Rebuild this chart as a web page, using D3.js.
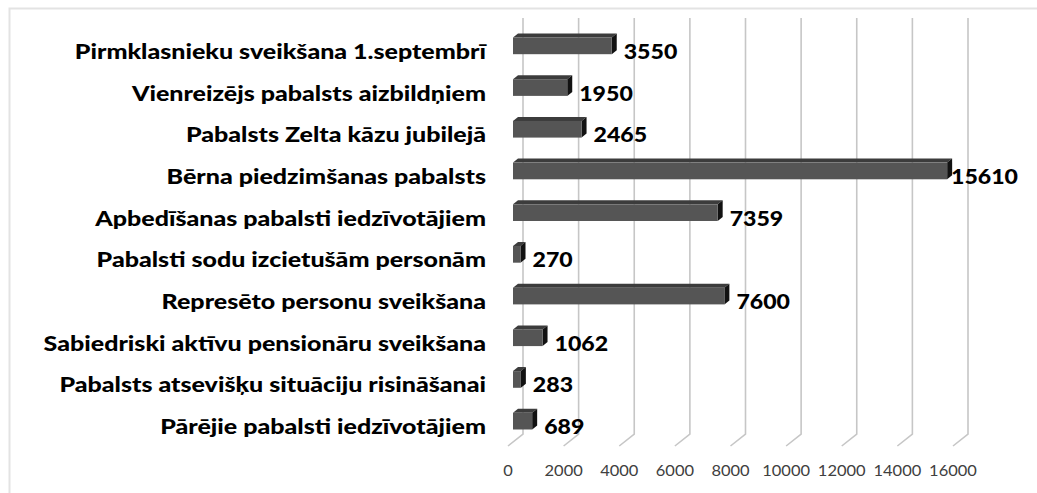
<!DOCTYPE html>
<html>
<head>
<meta charset="utf-8">
<script src="https://cdn.jsdelivr.net/npm/d3@7"></script>
<style>
  body { margin: 0; background: #fff; }
  text { font-family: Lato, "Open Sans", sans-serif; }
</style>
</head>
<body>
<div id="chart"></div>
<script>
// data, top to bottom as in the picture
var categories = [
  "Pirmklasnieku sveikšana 1.septembrī",
  "Vienreizējs pabalsts aizbildņiem",
  "Pabalsts Zelta kāzu jubilejā",
  "Bērna piedzimšanas pabalsts",
  "Apbedīšanas pabalsti iedzīvotājiem",
  "Pabalsti sodu izcietušām personām",
  "Represēto personu sveikšana",
  "Sabiedriski aktīvu pensionāru sveikšana",
  "Pabalsts atsevišķu situāciju risināšanai",
  "Pārējie pabalsti iedzīvotājiem"
];
var values = [3550, 1950, 2465, 15610, 7359, 270, 7600, 1062, 283, 689];
var ticks = [0, 2000, 4000, 6000, 8000, 10000, 12000, 14000, 16000];

var width = 1037, height = 493;

// 3d offsets
var depth = {dx: 15, dy: -12};
var barOff = {dx: 5, dy: -4};
var barDepth = {dx: 5, dy: -4};
var floorY = 446, gridTop = 18;

var svg = d3.select("#chart")
    .append("svg")
    .attr("width", width)
    .attr("height", height);

// chart border
svg.append("rect")
    .attr("x", 9.5).attr("y", 8.5)
    .attr("width", width).attr("height", height)
    .attr("fill", "none")
    .attr("stroke", "#e3e3e3")
    .attr("stroke-width", 2);

var xScale = d3.scaleLinear()
    .domain([0, 16000])
    .range([508, 953]);

var yScale = d3.scaleBand()
    .domain(categories)
    .range([25, 442])
    .paddingInner(0.6)
    .paddingOuter(0.3);

// gridlines (floor diagonal + back wall vertical)
svg.selectAll(".grid")
    .data(ticks)
    .enter().append("path")
    .attr("class", "grid")
    .attr("fill", "none")
    .attr("stroke", "#c6c6c6")
    .attr("stroke-width", 1.6)
    .attr("d", function(d) {
      var x = xScale(d);
      return "M" + x + "," + floorY + "L" + (x + depth.dx) + "," + (floorY + depth.dy) +
             "L" + (x + depth.dx) + "," + gridTop;
    });

// tick labels
svg.selectAll(".tick")
    .data(ticks)
    .enter().append("text")
    .attr("class", "tick")
    .attr("transform", function(d) { return "translate(" + xScale(d) + ",476) scale(1.03,1)"; })
    .attr("text-anchor", "middle")
    .attr("font-size", 16)
    .attr("fill", "#404040")
    .text(function(d) { return d; });

// bars
var bars = svg.selectAll(".bar")
    .data(categories)
    .enter().append("g")
    .attr("class", "bar");

bars.each(function(c, i) {
  var g = d3.select(this);
  var x0 = xScale(0) + barOff.dx;
  var x1 = xScale(values[i]) + barOff.dx;
  var y0 = yScale(c) + barOff.dy + 4;
  var h = yScale.bandwidth();
  var dx = barDepth.dx, dy = barDepth.dy;

  // top face
  g.append("path")
      .attr("fill", "#3c3c3c")
      .attr("d", "M" + x0 + "," + y0 + "L" + (x0 + dx) + "," + (y0 + dy) +
                 "L" + (x1 + dx) + "," + (y0 + dy) + "L" + x1 + "," + y0 + "Z");
  // side face
  g.append("path")
      .attr("fill", "#121212")
      .attr("d", "M" + x1 + "," + y0 + "L" + (x1 + dx) + "," + (y0 + dy) +
                 "L" + (x1 + dx) + "," + (y0 + dy + h) + "L" + x1 + "," + (y0 + h) + "Z");
  // front face
  g.append("rect")
      .attr("x", x0).attr("y", y0)
      .attr("width", x1 - x0).attr("height", h)
      .attr("fill", "#555555");
});

// category labels (the picture is stretched sideways a bit)
svg.selectAll(".cat")
    .data(categories)
    .enter().append("text")
    .attr("class", "cat")
    .attr("transform", function(d) {
      return "translate(486," + (yScale(d) + yScale.bandwidth() / 2 + 13) + ") scale(1.25,1)";
    })
    .attr("text-anchor", "end")
    .attr("font-size", 20)
    .attr("font-weight", 900)
    .attr("fill", "#000")
    .text(function(d) { return d; });

// value labels
svg.selectAll(".val")
    .data(values)
    .enter().append("text")
    .attr("class", "val")
    .attr("transform", function(d, i) {
      var x = Math.min(xScale(d) + 17, 951);
      return "translate(" + x + "," + (yScale(categories[i]) + yScale.bandwidth() / 2 + 13) + ") scale(1.1,1)";
    })
    .attr("font-size", 21)
    .attr("font-weight", 900)
    .attr("fill", "#000")
    .text(function(d) { return d; });
</script>
</body>
</html>
